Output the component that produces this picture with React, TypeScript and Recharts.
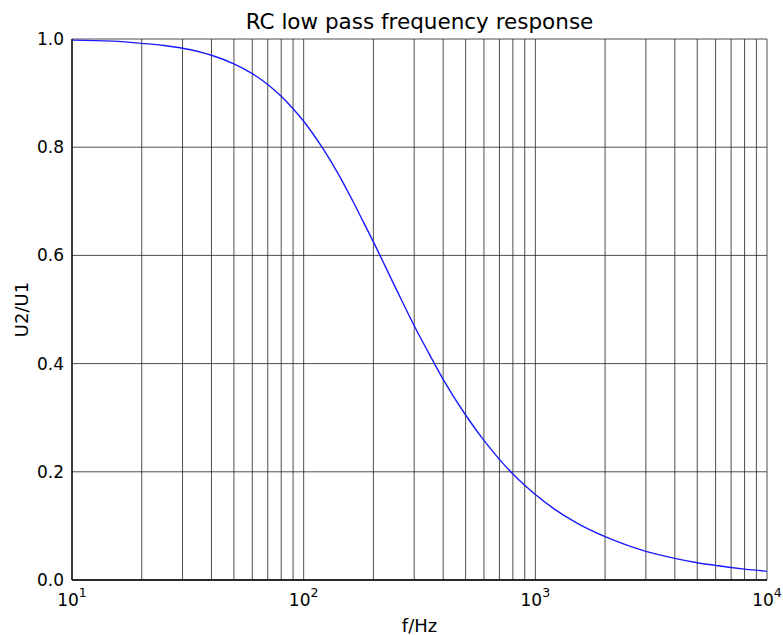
import React from "react";
import { LineChart, Line, XAxis, YAxis, CartesianGrid } from "recharts";

// frequency (Hz) and U2/U1
const freqs = [
  10, 15, 20, 25, 30, 40, 50, 60, 70, 80, 90, 100, 120, 140, 160, 180, 200, 250, 300, 350, 400,
  500, 600, 700, 800, 900, 1000, 1200, 1500, 2000, 2500, 3000, 4000, 5000, 6000, 7000, 8000, 10000,
];
const ratio = [
  0.998, 0.996, 0.992, 0.988, 0.983, 0.97, 0.954, 0.936, 0.916, 0.894, 0.871, 0.848, 0.8, 0.753,
  0.707, 0.664, 0.625, 0.539, 0.47, 0.416, 0.371, 0.305, 0.258, 0.223, 0.196, 0.175, 0.158, 0.132,
  0.106, 0.08, 0.064, 0.053, 0.04, 0.032, 0.027, 0.023, 0.02, 0.016,
];

// log grid positions; decades carry labels
const xTicks = [
  10, 20, 30, 40, 50, 60, 70, 80, 90, 100, 200, 300, 400, 500, 600, 700, 800, 900, 1000, 2000, 3000,
  4000, 5000, 6000, 7000, 8000, 9000, 10000,
];
const decades = [10, 100, 1000, 10000];
const exponents = ["1", "2", "3", "4"];
const yTicks = [0, 0.2, 0.4, 0.6, 0.8, 1.0];

const data = freqs.map((f, i) => ({ f, r: ratio[i] }));

const FONT = "'DejaVu Sans', sans-serif";

function DecadeTick({ x, y, payload }: any) {
  const i = decades.indexOf(payload.value);
  if (i < 0) return null;
  return (
    <text x={x} y={y + 26} textAnchor="middle" fontFamily={FONT} fontSize={17} fill="#000">
      10
      <tspan fontSize={12.5} dy={-9}>
        {exponents[i]}
      </tspan>
    </text>
  );
}

export default function App() {
  return (
    <div style={{ position: "fixed", left: 0, top: 0, width: 783, height: 635, background: "#fff" }}>
      <div
        style={{
          position: "absolute",
          left: 72,
          width: 695,
          top: 9,
          textAlign: "center",
          fontFamily: FONT,
          fontSize: 21.5,
          lineHeight: "26px",
          color: "#000",
        }}
      >
        RC low pass frequency response
      </div>
      <LineChart width={783} height={635} data={data} margin={{ top: 39, right: 16, bottom: 0, left: 0 }}>
        <CartesianGrid stroke="#222" strokeWidth={0.8} horizontalValues={yTicks} verticalValues={xTicks} />
        <XAxis
          dataKey="f"
          type="number"
          scale="log"
          domain={[10, 10000]}
          ticks={xTicks}
          interval={0}
          allowDataOverflow
          height={55}
          tickSize={0}
          tickMargin={0}
          tick={<DecadeTick />}
          axisLine={{ stroke: "#000", strokeWidth: 1.3 }}
          label={{ value: "f/Hz", position: "insideBottom", offset: 3, fontFamily: FONT, fontSize: 18, fill: "#000" }}
        />
        <XAxis xAxisId="top" orientation="top" type="number" scale="log" domain={[10, 10000]} height={0} tick={false} tickLine={false} axisLine={{ stroke: "#000", strokeWidth: 1.3 }} />
        <YAxis
          type="number"
          domain={[0, 1]}
          ticks={yTicks}
          interval={0}
          width={72}
          tickSize={0}
          tickMargin={8}
          tickFormatter={(v: number) => v.toFixed(1)}
          tick={{ fontFamily: FONT, fontSize: 17, fill: "#000" }}
          axisLine={{ stroke: "#000", strokeWidth: 1.3 }}
          label={{
            content: ({ viewBox }: any) => {
              const cx = viewBox.x + 21;
              const cy = viewBox.y + viewBox.height / 2;
              return (
                <text x={cx} y={cy} transform={`rotate(-90 ${cx} ${cy})`} textAnchor="middle" dominantBaseline="central" fontFamily={FONT} fontSize={18} fill="#000">
                  U2/U1
                </text>
              );
            },
          }}
        />
        <YAxis yAxisId="right" orientation="right" domain={[0, 1]} width={0} tick={false} tickLine={false} axisLine={{ stroke: "#000", strokeWidth: 1.3 }} />
        <Line type="monotone" dataKey="r" stroke="#1a1aff" strokeWidth={1.4} dot={false} isAnimationActive={false} />
      </LineChart>
    </div>
  );
}
